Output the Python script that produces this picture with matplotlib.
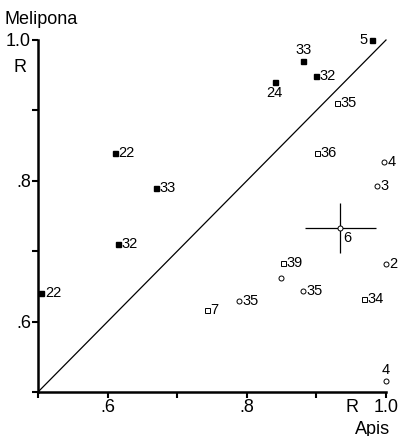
import matplotlib
matplotlib.use("Agg")
import matplotlib.pyplot as plt

# 数据：Apis 与 Melipona 的 R 值
filled_apis = [0.610, 0.670, 0.615, 0.505, 0.840, 0.881, 0.899, 0.980]
filled_mel = [0.840, 0.790, 0.710, 0.640, 0.940, 0.970, 0.949, 1.000]
filled_labels = ["22", "33", "32", "22", "24", "33", "32", "5"]

square_apis = [0.930, 0.901, 0.852, 0.968, 0.743]
square_mel = [0.910, 0.840, 0.683, 0.632, 0.617]
square_labels = ["35", "36", "39", "34", "7"]

circle_apis = [0.997, 0.987, 0.934, 0.849, 0.881, 1.000, 0.789, 1.000]
circle_mel = [0.827, 0.793, 0.733, 0.662, 0.643, 0.682, 0.629, 0.516]
circle_labels = ["4", "3", "6", "", "35", "2", "35", "4"]

# 点 6 的误差范围
err_x = 0.051
err_y = 0.036

plt.rcParams.update({"font.family": ["Liberation Sans", "DejaVu Sans"]})

W, H = 401, 436
fig = plt.figure(figsize=(W / 100, H / 100), dpi=100)
ax = fig.add_axes([38 / W, 1 - 392 / H, 348 / W, 352 / H])
ax.set_xlim(0.5, 1.0)
ax.set_ylim(0.5, 1.0)

for s in ["top", "right"]:
    ax.spines[s].set_visible(False)
for s in ["left", "bottom"]:
    ax.spines[s].set_linewidth(1.8)
    ax.spines[s].set_capstyle("projecting")

# 对角线
ax.plot([0.5, 1.0], [0.5, 1.0], color="black", lw=0.9, clip_on=False)

ms = 3.6
ax.plot(filled_apis, filled_mel, "s", color="black", ms=ms, clip_on=False)
ax.plot(square_apis, square_mel, "s", mfc="white", mec="black", mew=0.7,
        ms=ms, clip_on=False)
ax.errorbar(circle_apis[2], circle_mel[2], xerr=err_x, yerr=err_y, fmt="none",
            ecolor="black", elinewidth=0.9, capsize=0)
ax.plot(circle_apis, circle_mel, "o", mfc="white", mec="black", mew=0.7,
        ms=ms, clip_on=False, zorder=5)

# 标签偏移 (points), 对齐方式
default_off = (2.5, 0, "left", "center")
filled_off = {4: (0, -3, "center", "top"), 5: (0, 3, "center", "bottom"),
              7: (-3, 0, "right", "center")}
circle_off = {2: (2, -2, "left", "top"), 7: (0, 3, "center", "bottom")}


def label(xs, ys, labels, offs):
    for i, (x, y, t) in enumerate(zip(xs, ys, labels)):
        if not t:
            continue
        dx, dy, ha, va = offs.get(i, default_off)
        ax.annotate(t, (x, y), xytext=(dx, dy), textcoords="offset points",
                    fontsize=10.5, ha=ha, va=va)


label(filled_apis, filled_mel, filled_labels, filled_off)
label(square_apis, square_mel, square_labels, {})
label(circle_apis, circle_mel, circle_labels, circle_off)

ax.set_xticks([0.5, 0.6, 0.7, 0.8, 0.9, 1.0])
ax.set_xticklabels(["", ".6", "", ".8", "", ""])
ax.set_yticks([0.5, 0.6, 0.7, 0.8, 0.9, 1.0])
ax.set_yticklabels(["", ".6", "", ".8", "", "1.0"])
ax.tick_params(direction="out", length=4, width=1.5, labelsize=13, pad=1)

fig.text(386 / W, 1 - 407 / H, "1.0", fontsize=13, ha="center", va="center")
fig.text(352 / W, 1 - 407 / H, "R", fontsize=13, ha="center", va="center")
fig.text(373 / W, 1 - 429 / H, "Apis", fontsize=13, ha="center", va="center")
fig.text(4 / W, 1 - 19 / H, "Melipona", fontsize=13, ha="left", va="center")
fig.text(20 / W, 1 - 67 / H, "R", fontsize=13, ha="center", va="center")

fig.savefig("out.png", dpi=100)
